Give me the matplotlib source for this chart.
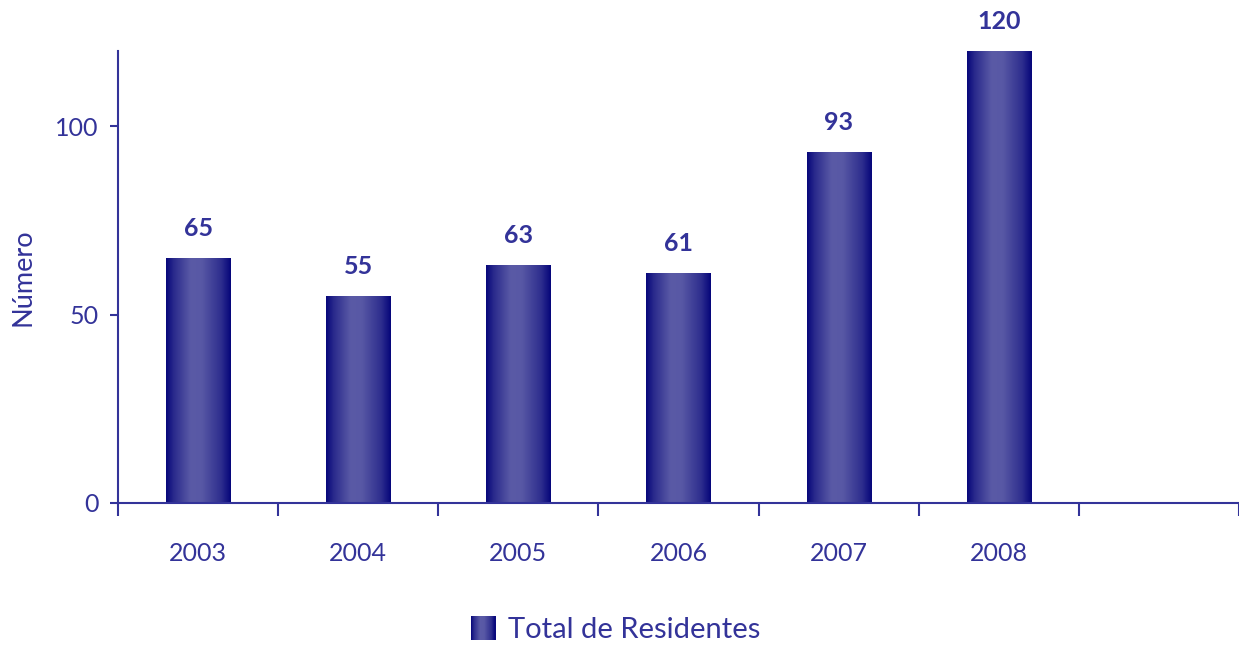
import numpy as np
import matplotlib
matplotlib.use("Agg")
import matplotlib.pyplot as plt
from matplotlib.colors import LinearSegmentedColormap
from matplotlib.patches import Rectangle
from matplotlib.legend_handler import HandlerBase

years = ["2003", "2004", "2005", "2006", "2007", "2008"]
residentes = [65, 55, 63, 61, 93, 120]
y_ticks = [0, 50, 100]
series_name = "Total de Residentes"
y_label = "Número"

ink = "#333399"
plt.rcParams["font.family"] = ["Lato", "DejaVu Sans"]

bar_cmap = LinearSegmentedColormap.from_list(
    "navy_tube",
    [(0.0, "#06067a"), (0.12, "#2a2a8c"), (0.38, "#5a5aa6"),
     (0.55, "#5858a5"), (0.85, "#2e2e8e"), (1.0, "#05057a")])
grad = np.linspace(0, 1, 256).reshape(1, -1)

fig = plt.figure(figsize=(12.39, 6.46), dpi=100)
ax = fig.add_axes([118 / 1239, 1 - 503 / 646, 1 - 118 / 1239, (503 - 50.6) / 646])

x = np.arange(len(years))
bars = ax.bar(x, residentes, width=0.40, color="none", edgecolor="none", zorder=2)
for b in bars:
    x0, y0 = b.get_x(), b.get_y()
    im = ax.imshow(grad, cmap=bar_cmap, aspect="auto", zorder=2,
                   extent=[x0, x0 + b.get_width(), y0, y0 + b.get_height()],
                   interpolation="bicubic")
    im.set_clip_path(b)

for xi, v in zip(x, residentes):
    ax.annotate(f"{v}", (xi, v), xytext=(0, 13), textcoords="offset points",
                ha="center", va="bottom", fontsize=18, fontweight="bold", color=ink)

ax.set_xlim(-0.5, 6.46)
ax.set_ylim(0, 120)

for s in ["top", "right"]:
    ax.spines[s].set_visible(False)
for s in ["left", "bottom"]:
    ax.spines[s].set_color(ink)
    ax.spines[s].set_linewidth(1.5)

ax.set_yticks(y_ticks)
ax.tick_params(axis="y", colors=ink, labelcolor=ink, labelsize=18,
               length=6, width=1.5, pad=8)

ax.set_xticks(np.arange(-0.5, 7, 1.0))
ax.set_xticklabels([])
ax.set_xticks(x, minor=True)
ax.set_xticklabels(years, minor=True)
ax.tick_params(axis="x", which="major", colors=ink, length=9, width=1.5)
ax.tick_params(axis="x", which="minor", length=0, labelcolor=ink,
               labelsize=18, pad=28)

ax.set_ylabel(y_label, color=ink, fontsize=19.5, labelpad=14)


class GradientHandler(HandlerBase):
    def create_artists(self, legend, orig_handle, xdescent, ydescent,
                       width, height, fontsize, trans):
        n = 24
        side = height * 1.2
        x0 = -xdescent + width - side
        y0 = -ydescent + (height - side) / 2
        arts = []
        for i in range(n):
            r = Rectangle((x0 + side * i / n, y0), side / n + 0.3, side,
                          facecolor=bar_cmap((i + 0.5) / n), edgecolor="none",
                          transform=trans)
            arts.append(r)
        return arts


proxy = Rectangle((0, 0), 1, 1)
fig.legend([proxy], [series_name], handler_map={Rectangle: GradientHandler()},
           loc="center", bbox_to_anchor=(0.498, 1 - 630 / 646), frameon=False,
           fontsize=21, labelcolor=ink, handlelength=0.75, handletextpad=0.45)

fig.savefig("out.png", dpi=100)
